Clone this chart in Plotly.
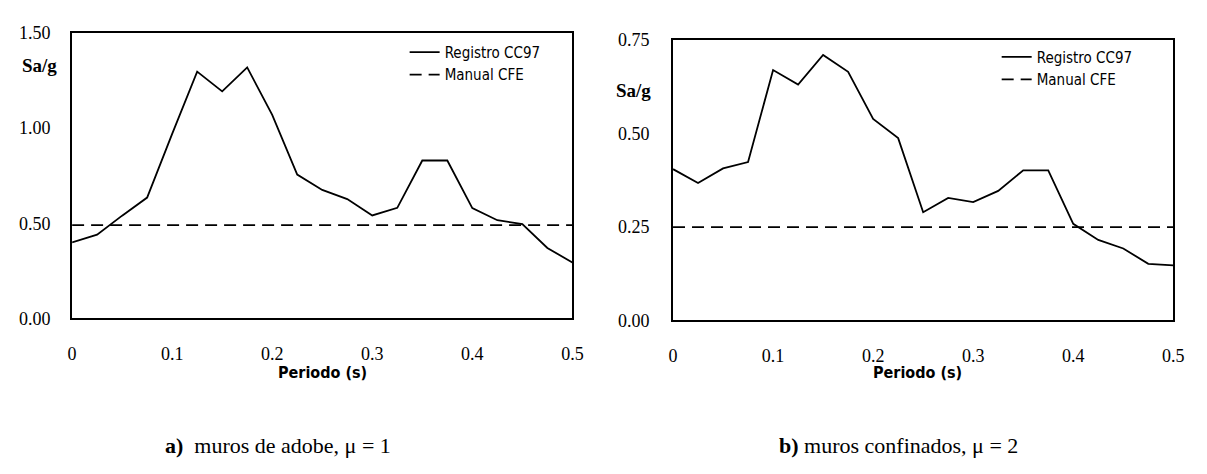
import plotly.graph_objects as go

# ---------------- data ----------------
periodo = [0, 0.025, 0.05, 0.075, 0.1, 0.125, 0.15, 0.175, 0.2, 0.225, 0.25,
           0.275, 0.3, 0.325, 0.35, 0.375, 0.4, 0.425, 0.45, 0.475, 0.5]

adobe_registro = [0.40, 0.44, 0.54, 0.635, 0.97, 1.297, 1.193, 1.319, 1.07, 0.756, 0.675,
                  0.627, 0.541, 0.581, 0.83, 0.83, 0.58, 0.516, 0.496, 0.37, 0.294]
adobe_manual = [0.49] * len(periodo)

conf_registro = [0.404, 0.367, 0.406, 0.423, 0.669, 0.63, 0.709, 0.664, 0.538, 0.487, 0.289,
                 0.327, 0.316, 0.346, 0.401, 0.401, 0.258, 0.215, 0.192, 0.151, 0.147]
conf_manual = [0.249] * len(periodo)

x_ticks = [0, 0.1, 0.2, 0.3, 0.4, 0.5]
x_ticktext = ["0", "0.1", "0.2", "0.3", "0.4", "0.5"]
y_ticks_a = [0, 0.5, 1.0, 1.5]
y_ticktext_a = ["0.00", "0.50", "1.00", "1.50"]
y_ticks_b = [0, 0.25, 0.5, 0.75]
y_ticktext_b = ["0.00", "0.25", "0.50", "0.75"]

name_reg = "Registro CC97"
name_man = "Manual CFE"
x_title = "Periodo (s)"
y_title = "Sa/g"
caption_a = "<b>a)</b>  muros de adobe, μ = 1"
caption_b = "<b>b)</b> muros confinados, μ = 2"

W, H = 1207, 474
SERIF = "Liberation Serif, Times New Roman, serif"
NARROW = "Liberation Sans Narrow, DejaVu Sans Condensed, Liberation Sans, sans-serif"

fig = go.Figure()

line_style = dict(color="black", width=1.8)
dash_style = dict(color="black", width=1.8, dash="12px,7px")

fig.add_trace(go.Scatter(x=periodo, y=adobe_registro, mode="lines", name=name_reg,
                         line=line_style, xaxis="x", yaxis="y", legend="legend"))
fig.add_trace(go.Scatter(x=periodo, y=adobe_manual, mode="lines", name=name_man,
                         line=dash_style, xaxis="x", yaxis="y", legend="legend"))
fig.add_trace(go.Scatter(x=periodo, y=conf_registro, mode="lines", name=name_reg,
                         line=line_style, xaxis="x2", yaxis="y2", legend="legend2"))
fig.add_trace(go.Scatter(x=periodo, y=conf_manual, mode="lines", name=name_man,
                         line=dash_style, xaxis="x2", yaxis="y2", legend="legend2"))


def px_x(p):
    return p / W


def px_y(p):
    return 1 - p / H


axis_common = dict(showline=True, linecolor="black", linewidth=1.8, mirror=True,
                   showgrid=False, zeroline=False, ticks="",
                   tickfont=dict(family=SERIF, size=18, color="black"))

fig.update_layout(
    width=W, height=H,
    margin=dict(l=0, r=0, t=0, b=0),
    paper_bgcolor="white", plot_bgcolor="white",
    xaxis=dict(domain=[px_x(68), px_x(575)], range=[0, 0.5], tickvals=x_ticks,
               ticktext=x_ticktext, anchor="y", ticklabelstandoff=18, **axis_common),
    yaxis=dict(domain=[px_y(322), px_y(24)], range=[0, 1.5], tickvals=y_ticks_a,
               ticktext=y_ticktext_a, anchor="x", ticklabelstandoff=16, **axis_common),
    xaxis2=dict(domain=[px_x(677), px_x(1184)], range=[0, 0.5], tickvals=x_ticks,
                ticktext=x_ticktext, anchor="y2", ticklabelstandoff=18, **axis_common),
    yaxis2=dict(domain=[px_y(324), px_y(31)], range=[0, 0.75], tickvals=y_ticks_b,
                ticktext=y_ticktext_b, anchor="x2", ticklabelstandoff=18, **axis_common),
    legend=dict(x=px_x(405), y=px_y(27), xanchor="left", yanchor="top",
                bgcolor="rgba(0,0,0,0)", font=dict(family=NARROW, size=15, color="black"),
                tracegroupgap=4),
    legend2=dict(x=px_x(1005), y=px_y(32), xanchor="left", yanchor="top",
                 bgcolor="rgba(0,0,0,0)", font=dict(family=NARROW, size=15, color="black"),
                 tracegroupgap=4),
    showlegend=True,
)

annotations = [
    dict(text=f"<b>{y_title}</b>", x=px_x(35), y=px_y(58), xref="paper", yref="paper",
         xanchor="center", yanchor="middle", showarrow=False,
         font=dict(family=SERIF, size=19, color="black")),
    dict(text=f"<b>{y_title}</b>", x=px_x(637), y=px_y(84), xref="paper", yref="paper",
         xanchor="center", yanchor="middle", showarrow=False,
         font=dict(family=SERIF, size=19, color="black")),
    dict(text=f"<b>{x_title}</b>", x=px_x(322), y=px_y(378), xref="paper", yref="paper",
         xanchor="center", yanchor="middle", showarrow=False,
         font=dict(family=NARROW, size=16, color="black")),
    dict(text=f"<b>{x_title}</b>", x=px_x(925), y=px_y(378), xref="paper", yref="paper",
         xanchor="center", yanchor="middle", showarrow=False,
         font=dict(family=NARROW, size=16, color="black")),
    dict(text=caption_a, x=px_x(160), y=px_y(455), xref="paper", yref="paper",
         xanchor="left", yanchor="middle", showarrow=False,
         font=dict(family=SERIF, size=22, color="black")),
    dict(text=caption_b, x=px_x(782), y=px_y(455), xref="paper", yref="paper",
         xanchor="left", yanchor="middle", showarrow=False,
         font=dict(family=SERIF, size=22, color="black")),
]
fig.update_layout(annotations=annotations)

fig.write_html("out.html")
